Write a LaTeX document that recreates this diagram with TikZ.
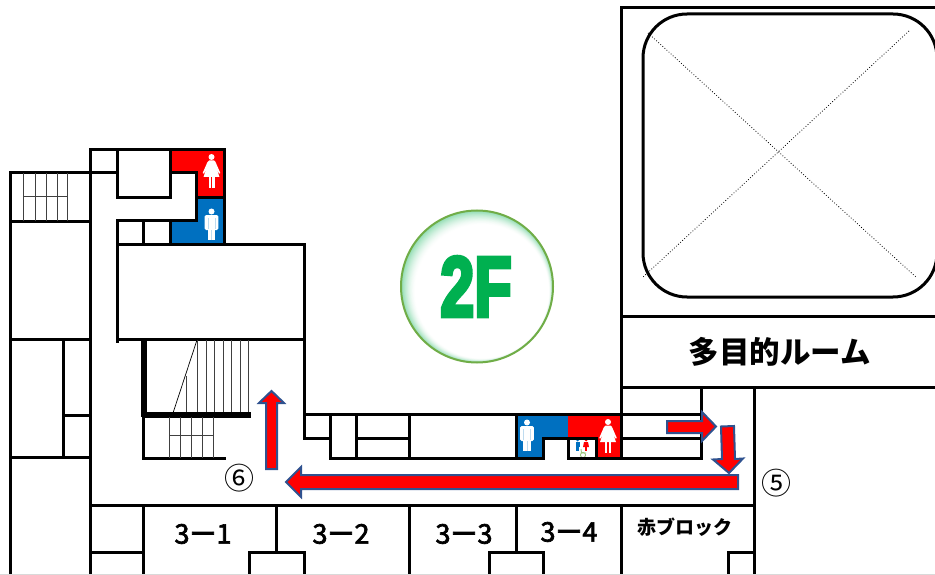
\documentclass[tikz,border=0pt]{standalone}
\usepackage{fontspec}
\setmainfont{Liberation Sans}
\newfontfamily\jp{Noto Sans CJK JP}
\newfontfamily\jpm[FakeBold=2.5]{Noto Sans CJK JP}
\newfontfamily\badgefont[FakeBold=5]{Liberation Sans}
\definecolor{wred}{RGB}{255,0,0}
\definecolor{wblue}{RGB}{0,112,192}
\definecolor{arrowedge}{RGB}{47,82,143}
\definecolor{ringgreen}{RGB}{112,173,71}
\definecolor{flgreen}{RGB}{0,176,80}
\tikzset{
  wall/.style={draw=black,line width=3pt,line cap=rect},
  thick wall/.style={draw=black,line width=5.5pt},
  tread/.style={draw=black!75,line width=1pt},
  route/.style={draw=arrowedge,fill=wred,line width=2pt,line join=miter},
  room/.style={text=black,inner sep=0pt},
  man/.pic={
    \fill[white] (0,-13.5) circle (3);
    \fill[white,rounded corners=1.5pt] (-6.8,-10) rectangle (6.8,5);
    \fill[white] (-3.8,4) rectangle (-0.5,15);
    \fill[white] (0.5,4) rectangle (3.8,15);
    \fill[wblue!25!white] (-4,-7) rectangle (-3.2,4);
    \fill[wblue!25!white] (3.2,-7) rectangle (4,4);
    \fill[wblue!25!white] (-0.5,5) rectangle (0.5,15);
  },
  woman/.pic={
    \fill[white] (0,-15) circle (3);
    \fill[white] (-2.5,-11.5) -- (2.5,-11.5) -- (4,-10) -- (8.8,1) -- (7.6,1.6) -- (5.2,-3) -- (8,5) -- (-8,5) -- (-5.2,-3) -- (-7.6,1.6) -- (-8.8,1) -- (-4,-10) -- cycle;
    \fill[white] (-3,5) rectangle (-0.9,16);
    \fill[white] (0.9,5) rectangle (3,16);
  },
}
\begin{document}
\begin{tikzpicture}[x=1pt,y=-1pt]
\useasboundingbox (0,0) rectangle (935,575);
% coloured toilets
\fill[wred] (170,150) -- (224,150) -- (224,198) -- (196,198) -- (196,173) -- (170,173) -- cycle;
\fill[wblue] (196,198) -- (224,198) -- (224,244) -- (170,244) -- (170,220) -- (196,220) -- cycle;
\fill[wblue] (516,414) -- (568,414) -- (568,438) -- (543,438) -- (543,458) -- (516,458) -- cycle;
\fill[wred] (568,414) -- (621,414) -- (621,458) -- (596,458) -- (596,438) -- (568,438) -- cycle;
\pic at (211.5,225) {man};
\pic at (527,436) {man};
\pic at (211.5,172) {woman};
\pic at (608,437) {woman};
% accessible toilet icons
\fill[wblue] (577.7,440) circle (1.5);
\fill[wblue] (575.5,442) rectangle (580,447);
\fill[wblue] (576.3,447) rectangle (579.2,451);
\fill[wred] (586,440) circle (1.5);
\fill[wred] (584,442) -- (588,442) -- (589,447) -- (583,447) -- cycle;
\fill[wred] (585,447) rectangle (587,451);
\draw[ringgreen!70!white,line width=0.9pt] (581,449) -- (581.5,453) -- (586,453);
\draw[ringgreen!70!white,line width=0.9pt] (583,455) circle (2.6);
% upper left block
\draw[wall] (90,575) -- (90,150) -- (224,150) -- (224,244);
\draw[wall] (90,173) -- (10,173) -- (10,575);
\draw[wall] (90,173) -- (117,173);
\draw[wall] (117,150) -- (117,198) -- (170,198) -- (170,150);
\draw[wall] (170,173) -- (196,173) -- (196,220) -- (117,220) -- (117,341);
\draw[wall] (196,198) -- (224,198);
\draw[wall] (143,220) -- (143,244);
\draw[wall] (170,220) -- (170,244);
\draw[wall] (117,244) -- (304,244) -- (304,438) -- (330,438);
\draw[wall] (117,339) -- (304,339);
\draw[wall] (10,221) -- (90,221);
\draw[wall] (10,339) -- (90,339);
\draw[wall] (63,339) -- (63,457);
\draw[wall] (63,415) -- (90,415);
\draw[wall] (10,457) -- (90,457);
% top-left stair
\foreach \x in {23,35,46,57,67} \draw[tread] (\x,173) -- (\x,221);
\draw[tread] (23,197) -- (67,197);
% central stair
\foreach \x in {197,206,214,223,231,240,248} \draw[tread] (\x,340) -- (\x,413);
\draw[tread] (186,376) -- (186,413);
\draw[draw=black,line width=0.7pt] (197,340) -- (173,413);
\draw[thick wall] (144,339) -- (144,417);
\draw[thick wall] (142,415) -- (251,415);
\draw[wall] (143,417) -- (143,458) -- (224,458);
\foreach \x in {169,180,191,202,213} \draw[tread] (\x,417) -- (\x,458);
\draw[tread] (169,435) -- (213,435);
% corridor rooms
\draw[wall] (304,414) -- (621,414);
\draw[wall] (330,414) -- (330,458) -- (543,458) -- (543,438) -- (596,438) -- (596,458);
\draw[wall] (356,414) -- (356,458);
\draw[wall] (356,438) -- (409,438);
\draw[wall] (409,414) -- (409,458);
\draw[wall] (516,414) -- (516,458);
\draw[wall] (568,438) -- (568,458) -- (701,458) -- (701,387);
\draw[wall] (621,414) -- (701,414);
\draw[wall] (621,438) -- (701,438);
\draw[wall] (621,8) -- (621,458);
% auditorium
\draw[wall] (621,8) -- (935,8);
\draw[wall] (621,316) -- (935,316);
\draw[wall] (621,387) -- (935,387);
\draw[wall] (754,387) -- (754,575);
\draw[line width=3pt,rounded corners=44pt] (643,14) rectangle (937,297);
\draw[line width=0.8pt,dotted] (648,33) -- (917,278);
\draw[line width=0.8pt,dotted] (909,31) -- (642,278);
% classrooms
\draw[wall] (90,505) -- (754,505);
\draw[wall] (143,505) -- (143,575);
\draw[wall] (90,552) -- (143,552);
\draw[wall] (276,505) -- (276,552);
\draw[wall] (249,575) -- (249,552) -- (304,552) -- (304,575);
\draw[wall] (409,505) -- (409,575);
\draw[wall] (516,505) -- (516,552);
\draw[wall] (489,575) -- (489,552) -- (543,552) -- (543,575);
\draw[wall] (621,505) -- (621,575);
\draw[wall] (728,575) -- (728,552) -- (754,552);
\draw[black!15,line width=1pt] (0,574.5) -- (935,574.5);
% arrows
\draw[route] (266,469) -- (266,403) -- (259,403) -- (271.5,391) -- (284,403) -- (277,403) -- (277,469) -- cycle;
\draw[route] (738,475) -- (301,475) -- (301,467) -- (286,482) -- (301,497) -- (301,489) -- (738,489) -- cycle;
\draw[route] (667,421) -- (702,421) -- (702,412) -- (716,426.5) -- (702,441) -- (702,433) -- (667,433) -- cycle;
\draw[route] (721,426.5) -- (734,426) -- (735,459) -- (743,458.5) -- (729,473) -- (713,459.5) -- (722,459) -- cycle;
% 2F badge: soft glow stacked from the rim inwards
\foreach \i in {0,...,20} {
  \pgfmathsetmacro{\tval}{\i/20}
  \pgfmathsetmacro{\rad}{76-9*\tval}
  \pgfmathsetmacro{\off}{5*\tval}
  \pgfmathsetmacro{\tint}{45*(1-\tval)^1.6}
  \fill[flgreen!\tint!white] (477+\off,286.5+\off) circle (\rad);
}
\node[circle,minimum size=152pt,inner sep=0pt,draw=ringgreen,line width=2pt] (badge) at (477,286.5) {};
\node[inner sep=0pt,text=flgreen] (floor) at (476,286.5) {\scalebox{0.72}[1]{\badgefont\fontsize{85}{85}\selectfont\bfseries 2F}};
% labels
\node[room,font=\jpm\fontsize{27}{27}\selectfont] (r1) at (203,534) {3ー1};
\node[room,font=\jpm\fontsize{27}{27}\selectfont] (r2) at (341,534) {3ー2};
\node[room,font=\jpm\fontsize{27}{27}\selectfont] (r3) at (464,534) {3ー3};
\node[room,font=\jpm\fontsize{27}{27}\selectfont] (r4) at (569,532) {3ー4};
\node[room,font=\jp\bfseries\fontsize{19}{19}\selectfont] (r5) at (685,527) {赤ブロック};
\node[room,font=\jp\bfseries\fontsize{30.5}{30.5}\selectfont] (hall) at (780,352) {多目的ルーム};
\node[inner sep=0pt,font=\jp\fontsize{30}{30}\selectfont] (n5) at (776,483.5) {⑤};
\node[inner sep=0pt,font=\jp\fontsize{30}{30}\selectfont] (n6) at (239,478.5) {⑥};
\end{tikzpicture}
\end{document}
